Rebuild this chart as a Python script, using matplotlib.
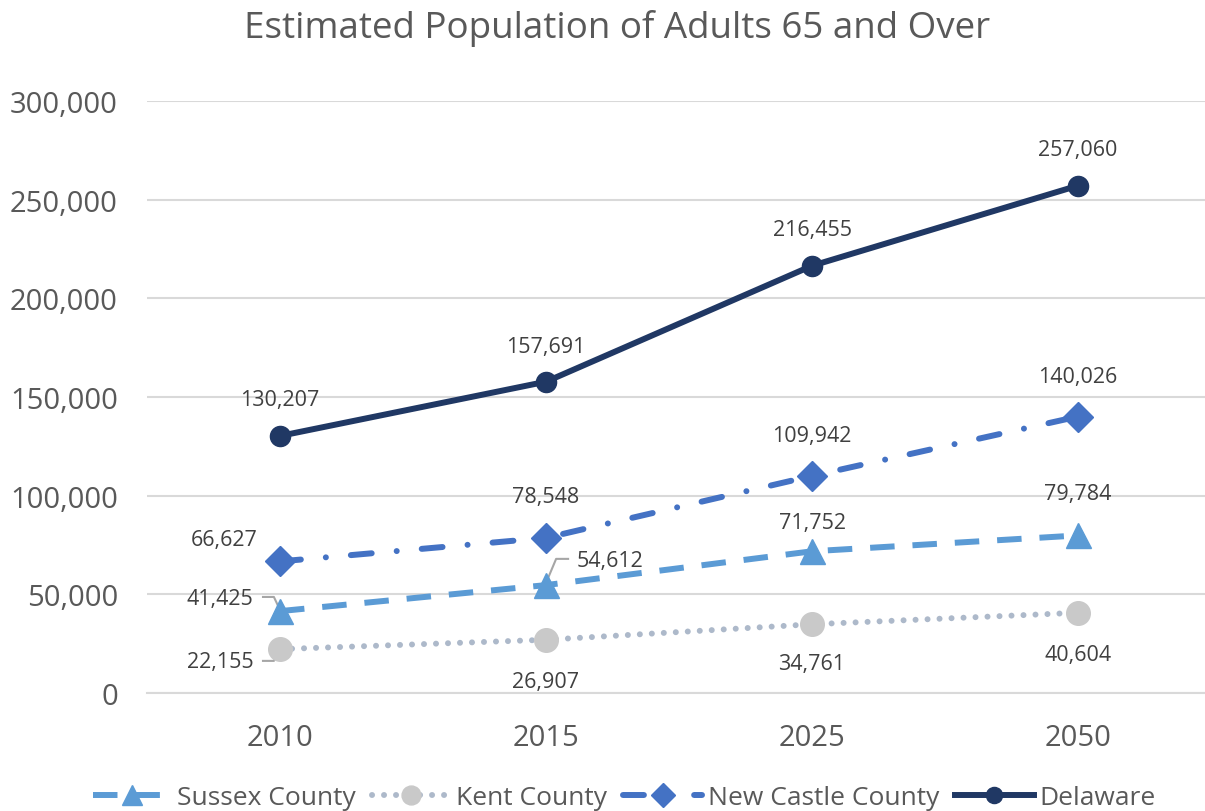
import numpy as np
import matplotlib.pyplot as plt

years = ["2010", "2015", "2025", "2050"]
sussex = [41425, 54612, 71752, 79784]
kent = [22155, 26907, 34761, 40604]
new_castle = [66627, 78548, 109942, 140026]
delaware = [130207, 157691, 216455, 257060]

plt.rcParams["font.family"] = ["Open Sans", "DejaVu Sans"]

fig = plt.figure(figsize=(12.05, 8.12), dpi=100)
ax = fig.add_axes([0.122, 0.1455, 0.883, 0.729])
x = np.arange(len(years))

ax.plot(x, sussex, color="#5B9BD5", lw=4.3, dashes=(4.1, 3.0), marker="^", ms=18,
        label="Sussex County", zorder=3)
ax.plot(x, kent, color="#ADB9CA", lw=4.3, dashes=(0.01, 2.0), dash_capstyle="round",
        marker="o", ms=17, mfc="#C9C9C9", mec="#C9C9C9", label="Kent County", zorder=3)
ax.plot(x, new_castle, color="#4472C4", lw=4.3, dashes=(3.5, 4.2, 0.01, 4.2),
        dash_capstyle="round", marker="D", ms=15, label="New Castle County", zorder=3)
ax.plot(x, delaware, color="#203864", lw=4.3, marker="o", ms=14.5, label="Delaware", zorder=4)

lab = dict(fontsize=15.5, color="#404040", ha="center", va="center")
dela_off = [(0, 26), (0, 25), (0, 26), (0, 26)]
nc_off = [(-40, 16), (0, 30), (0, 29), (0, 29)]
sus_off = [(-43, 9), (46, 18), (0, 21), (0, 30)]
kent_off = [(-43, -9), (0, -30), (0, -28), (0, -30)]
for vals, offs in [(delaware, dela_off), (new_castle, nc_off), (sussex, sus_off), (kent, kent_off)]:
    for i, v in enumerate(vals):
        ax.annotate(f"{v:,}", (x[i], v), xytext=offs[i], textcoords="offset points", **lab)

# leader lines
lc = dict(color="#A6A6A6", lw=1.5, zorder=2)
ax.plot([-0.064, -0.023, 0], [48600, 48600, 42000], **lc)
ax.plot([-0.064, -0.023, 0], [16200, 16200, 22800], **lc)
ax.plot([1.083, 1.038, 1], [67900, 67900, 55700], **lc)

ax.set_xlim(-0.5, 3.5)
ax.set_ylim(0, 300000)
ax.set_yticks(np.arange(0, 300001, 50000))
ax.yaxis.set_major_formatter(plt.FuncFormatter(lambda v, p: f"{int(v):,}"))
ax.set_xticks(x)
ax.set_xticklabels(years)
ax.tick_params(axis="both", length=0, labelsize=21, labelcolor="#595959")
ax.tick_params(axis="x", pad=22)
ax.tick_params(axis="y", pad=21)
ax.grid(axis="y", color="#D9D9D9", lw=1.5)
ax.set_axisbelow(True)
for s in ["top", "right", "left"]:
    ax.spines[s].set_visible(False)
ax.spines["bottom"].set_color("#D9D9D9")
ax.spines["bottom"].set_linewidth(1.5)

fig.text(0.512, 0.965, "Estimated Population of Adults 65 and Over", ha="center", va="center",
         fontsize=26.5, color="#595959")

fig.legend(loc="lower center", bbox_to_anchor=(0.518, -0.018), ncol=4, frameon=False,
           fontsize=19, labelcolor="#595959", handlelength=3, columnspacing=0.6,
           handletextpad=0.2, borderaxespad=0.2, markerscale=0.8)

fig.savefig("out.png", dpi=100)
